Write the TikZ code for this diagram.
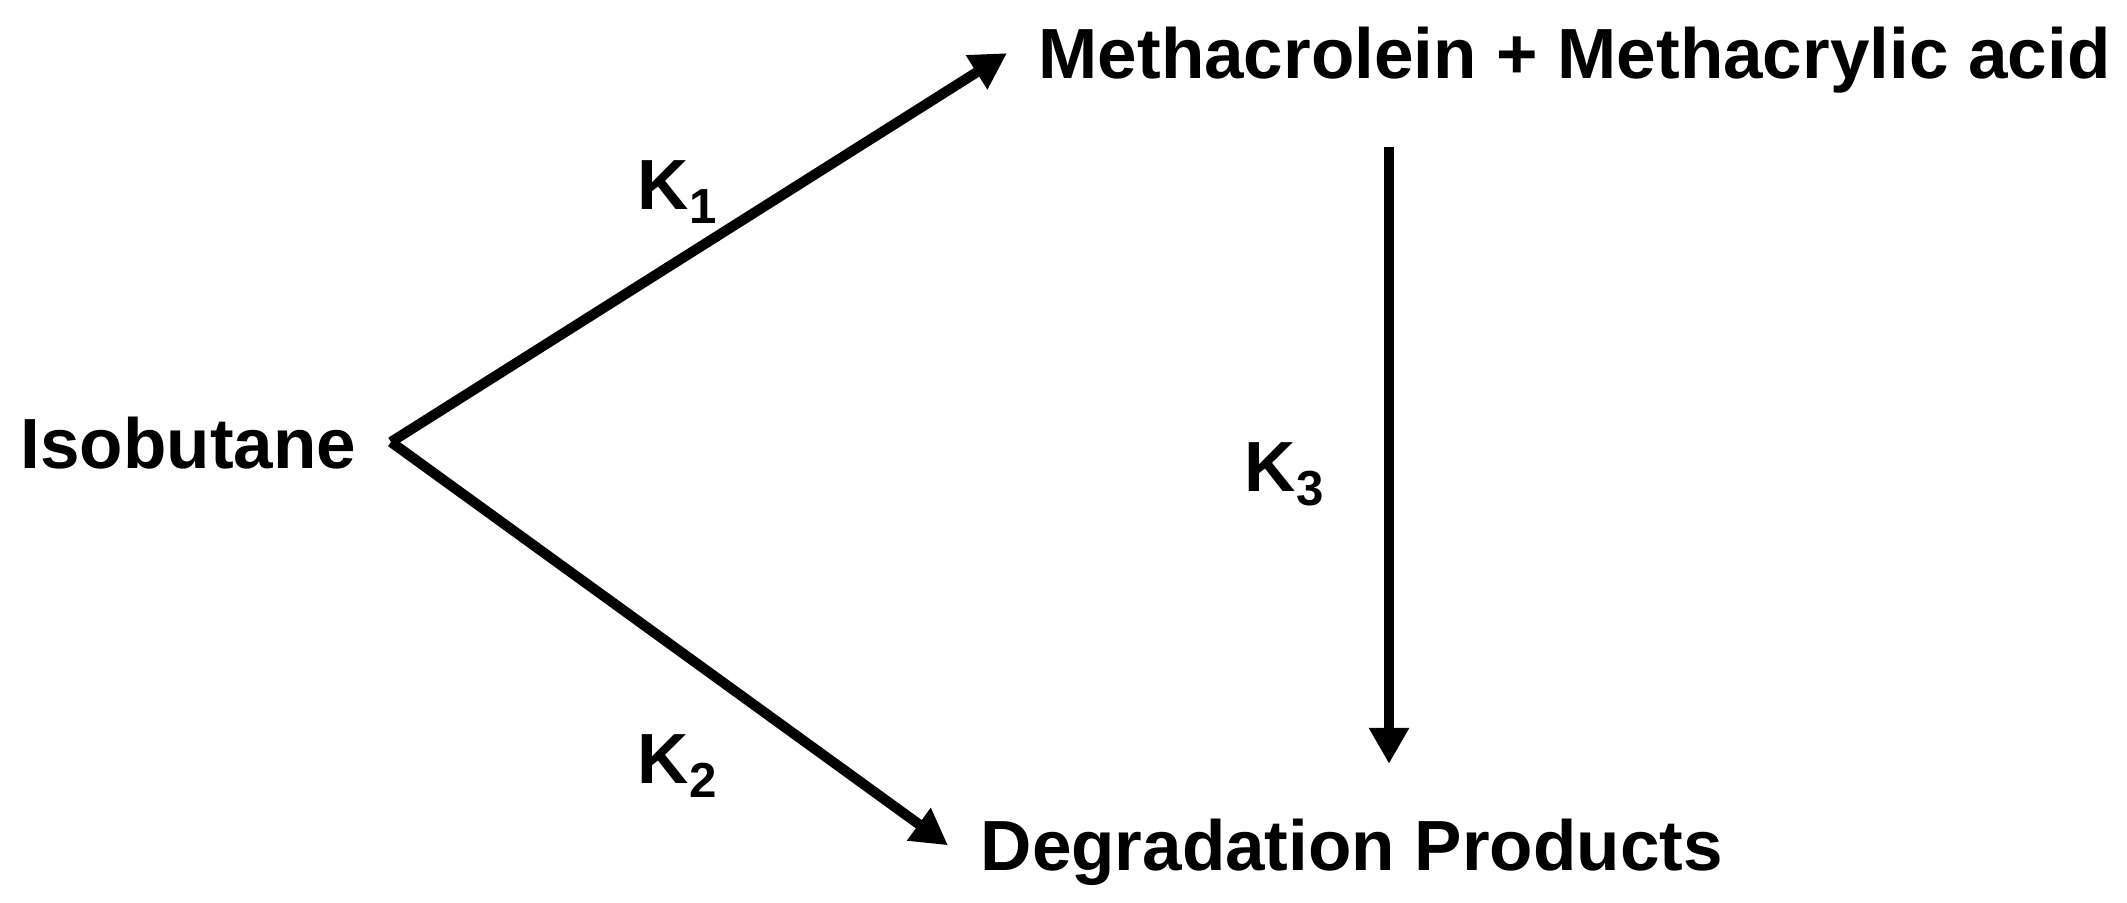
\documentclass[tikz,border=0pt]{standalone}
\usepackage{fontspec}
\setmainfont{Liberation Sans}
\usetikzlibrary{positioning}
\usetikzlibrary{arrows.meta}
\newcommand{\ksub}[1]{\raisebox{-0.2em}{\fontsize{14pt}{14pt}\selectfont #1}}
\tikzset{
    chem/.style = {inner sep=0pt, anchor=base west, font=\bfseries\fontsize{20.2pt}{24pt}\selectfont, text=black},
    rate/.style = {inner sep=0pt, anchor=base west, font=\bfseries\fontsize{20.2pt}{24pt}\selectfont, text=black},
    edgek/.style = {-{Triangle[length=0.36cm,width=0.38cm]}, line width=2.9pt, black},
}

\begin{document}
\begin{tikzpicture}[x=0.01cm, y=-0.01cm]
\useasboundingbox (0,0) rectangle (2127,902);
%
\node[chem] at (20, 468) (iso) {Isobutane};
\node[chem] at (1038, 78) (meth) {Methacrolein + Methacrylic acid};
\node[chem] at (980, 870) (deg) {Degradation Products};
%
\node[rate] at (637, 209) (k1) {K\ksub{1}};
\node[rate] at (637, 783) (k2) {K\ksub{2}};
\node[rate] at (1244, 491) (k3) {K\ksub{3}};
%
\coordinate (fork) at (391, 442);
\coordinate (drop) at (1389, 0);
%
\draw[edgek] (fork) -- ([xshift=-0.31cm,yshift=0.065cm]meth.west);
\draw[edgek] (fork) -- ([xshift=-0.32cm,yshift=0.065cm]deg.west);
\draw[edgek] ([yshift=-0.54cm]meth.south -| drop) -- ([yshift=0.54cm]deg.north -| drop);
\end{tikzpicture}
\end{document}
